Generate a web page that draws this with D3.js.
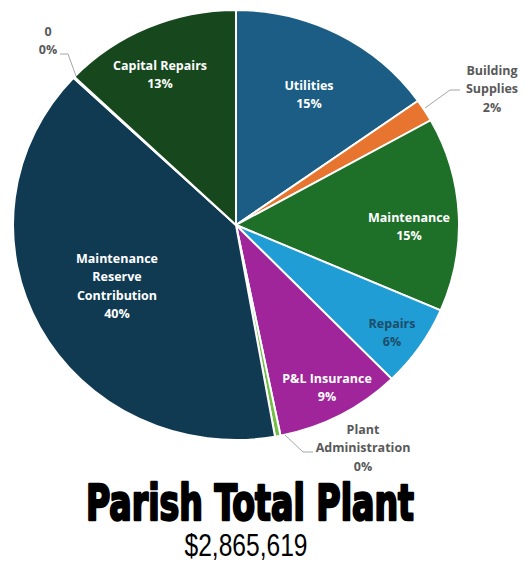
<!DOCTYPE html>
<html>
<head>
<meta charset="utf-8">
<script src="https://cdn.jsdelivr.net/npm/d3@7"></script>
<style>
  html, body { margin: 0; padding: 0; background: #ffffff; }
  svg { display: block; }
</style>
</head>
<body>
<svg id="chart" width="531" height="571"></svg>
<script>
// Budget categories, clockwise from 12 o'clock
const categories = [
  "Utilities", "Building Supplies", "Maintenance", "Repairs", "P&L Insurance",
  "Plant Administration", "Maintenance Reserve Contribution", "0", "Capital Repairs"
];
// Share of total (percent)
const shares = [15.2, 1.7, 14.6, 6.2, 9.1, 0.4, 39.8, 0.1, 12.9];
const colors = [
  "#1b5d84", "#e8752f", "#1e7029", "#209dd5", "#a0259a",
  "#72be47", "#0f3a52", "#8a8a8a", "#17481d"
];
const totalLabel = "$2,865,619";
const titleText = "Parish Total Plant";

// Label layout: anchor x, first baseline y, text rows, fill, optional leader polyline
const labelLayout = [
  { x: 309, y: 90,  lines: ["Utilities"], fill: "#ffffff" },
  { x: 492, y: 75,  lines: ["Building", "Supplies"], fill: "#595959",
    leader: [[425, 108], [450, 90], [460, 90]] },
  { x: 409, y: 222, lines: ["Maintenance"], fill: "#ffffff" },
  { x: 392, y: 328, lines: ["Repairs"], fill: "#1d4d6a" },
  { x: 327, y: 383, lines: ["P&L Insurance"], fill: "#ffffff" },
  { x: 363, y: 434, lines: ["Plant", "Administration"], fill: "#595959",
    leader: [[285, 435], [303, 452], [313, 452]] },
  { x: 117, y: 263, lines: ["Maintenance", "Reserve", "Contribution"], fill: "#ffffff" },
  { x: 48,  y: 36,  lines: ["0"], fill: "#595959",
    leader: [[76, 76], [68, 54], [60, 54]] },
  { x: 160, y: 70,  lines: ["Capital Repairs"], fill: "#ffffff" }
];

const svg = d3.select("#chart");
const cx = 236, cy = 225, rx = 223, ry = 215;

const pie = d3.pie().sort(null).value(d => d)(shares);
const arc = d3.arc().innerRadius(0).outerRadius(rx);

const g = svg.append("g")
  .attr("transform", `translate(${cx},${cy}) scale(1,${ry / rx})`);

g.selectAll("path.slice")
  .data(pie)
  .join("path")
  .attr("class", "slice")
  .attr("d", arc)
  .attr("fill", (d, i) => colors[i])
  .attr("stroke", "#ffffff")
  .attr("stroke-width", 2)
  .attr("stroke-linejoin", "round");

// Leader lines for the small slices
const line = d3.line();
svg.selectAll("path.leader")
  .data(labelLayout.filter(l => l.leader))
  .join("path")
  .attr("class", "leader")
  .attr("d", l => line(l.leader))
  .attr("fill", "none")
  .attr("stroke", "#a6a6a6")
  .attr("stroke-width", 1);

// Data labels: category name plus rounded share
const lineH = 18.3;
labelLayout.forEach((l, i) => {
  const t = svg.append("text")
    .attr("text-anchor", "middle")
    .attr("font-family", "'Open Sans', 'Noto Sans', sans-serif")
    .attr("font-weight", 700)
    .attr("font-size", 12.5)
    .attr("fill", l.fill);
  const rows = l.lines.concat([Math.round(shares[i]) + "%"]);
  rows.forEach((r, k) => {
    t.append("tspan")
      .attr("x", l.x)
      .attr("y", l.y + k * lineH)
      .text(r);
  });
});

// Title block
svg.append("text")
  .attr("x", 250)
  .attr("y", 520)
  .attr("text-anchor", "middle")
  .attr("font-family", "'DejaVu Sans Condensed', 'DejaVu Sans', sans-serif")
  .attr("font-weight", 700)
  .attr("font-size", 50)
  .attr("fill", "#000000")
  .attr("stroke", "#000000")
  .attr("stroke-width", 2.4)
  .attr("stroke-linejoin", "round")
  .attr("textLength", 328)
  .attr("lengthAdjust", "spacingAndGlyphs")
  .text(titleText);

svg.append("text")
  .attr("x", 246)
  .attr("y", 556)
  .attr("text-anchor", "middle")
  .attr("font-family", "'Liberation Sans Narrow', 'Liberation Sans', sans-serif")
  .attr("font-size", 31)
  .attr("fill", "#000000")
  .attr("textLength", 123)
  .attr("lengthAdjust", "spacingAndGlyphs")
  .text(totalLabel);
</script>
</body>
</html>
